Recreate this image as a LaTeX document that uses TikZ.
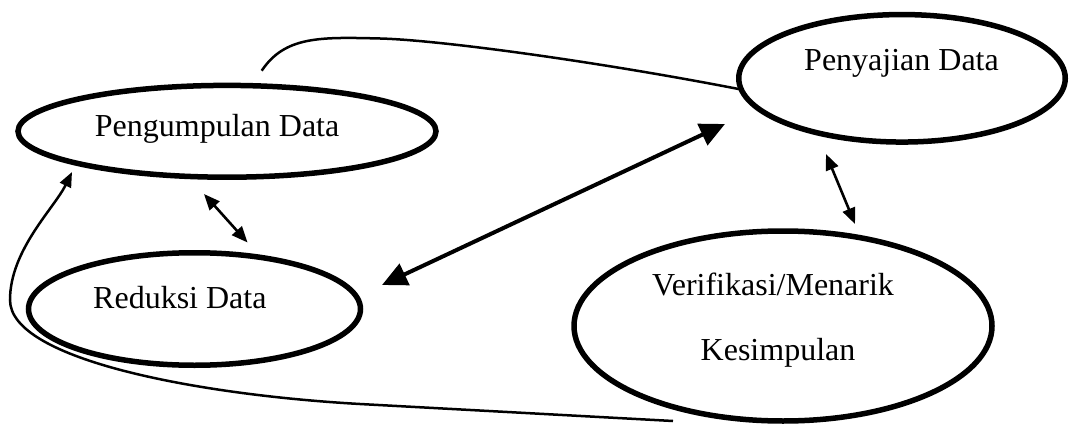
\documentclass[tikz,border=0pt]{standalone}
\usepackage{fontspec}
\setmainfont{Liberation Serif}
\usetikzlibrary{arrows.meta,shapes.geometric}
\begin{document}
\begin{tikzpicture}[x=1pt,y=-1pt,
  ell/.style={ellipse, draw, line width=5.5pt, inner sep=0pt, outer sep=0pt},
  lbl/.style={anchor=base west, inner sep=0pt, font=\fontsize{32}{38}\selectfont},
  thinline/.style={line width=2.5pt},
  bigarr/.style={line width=4pt, {Triangle[length=25pt,width=23pt]}-{Triangle[length=25pt,width=23pt]}},
  smallarr/.style={line width=2.6pt, {Triangle[length=16pt,width=13pt]}-{Triangle[length=16pt,width=13pt]}},
  backarr/.style={line width=2.5pt, -{Triangle[length=15pt,width=12pt]}},
]
\useasboundingbox (0,0) rectangle (1070,425);

% ellipses
\node[ell, minimum width=418pt, minimum height=91.8pt] (pd) at (227,131.3) {};
\node[ell, minimum width=332pt, minimum height=112.5pt] (rd) at (194.5,309) {};
\node[ell, minimum width=326.5pt, minimum height=127.5pt] (pj) at (902,78.3) {};
\node[ell, minimum width=418pt, minimum height=190pt] (vk) at (783,326) {};

% labels
\node[lbl] (pdt) at (94.7,136.7) {Pengumpulan Data};
\node[lbl] (rdt) at (93,308.3) {Reduksi Data};
\node[lbl] (pjt) at (804,70.7) {Penyajian Data};
\node[lbl] (vkt1) at (652,295) {Verifikasi/Menarik};
\node[lbl] (vkt2) at (700.5,360) {Kesimpulan};

% free ends
\coordinate (topstart) at (261.7,70.7);
\coordinate (bigL) at (382,285);
\coordinate (bigR) at (725,124);
\coordinate (smLa) at (204,194);
\coordinate (smLb) at (247.5,242.5);
\coordinate (smRa) at (826,154);
\coordinate (smRb) at (855,224);
\coordinate (botstart) at (673,421);
\coordinate (bottip) at (72,172);

% upper connector (no arrow)
\draw[thinline] (topstart) .. controls (285,36) and (320,37) .. (380,38.5)
   .. controls (440,40) and (600,62) .. (pj.184);

% big double arrow
\draw[bigarr] (bigL) -- (bigR);

% small double arrows
\draw[smallarr] (smLa) -- (smLb);
\draw[smallarr] (smRa) -- (smRb);

% bottom return arrow
\draw[backarr] (botstart) -- (360,404) .. controls (200,395) and (10,360) .. (10,300)
   .. controls (10,250) and (54.4,208) .. (bottip);
\end{tikzpicture}
\end{document}
